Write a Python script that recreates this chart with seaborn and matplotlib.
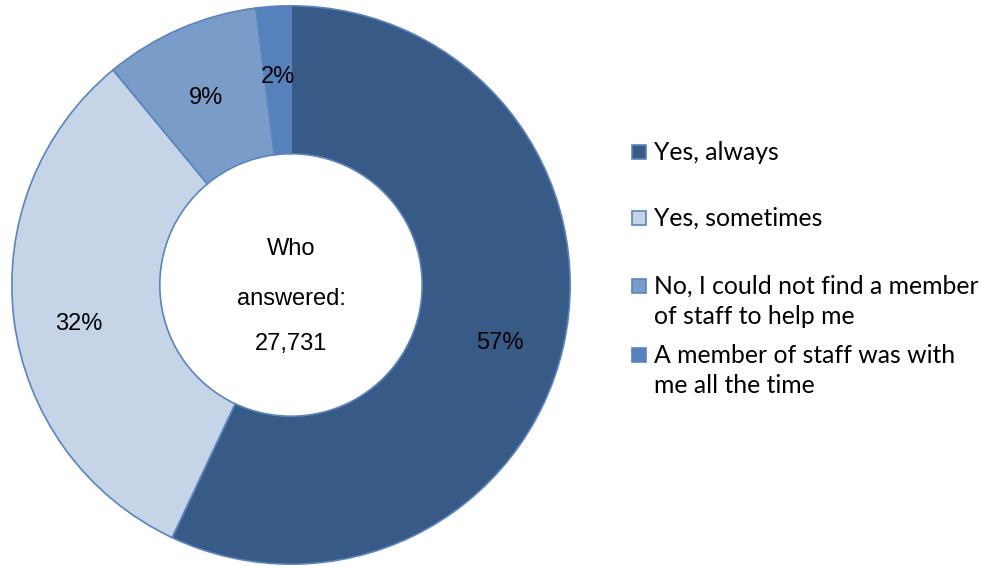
import matplotlib
matplotlib.use("Agg")
import matplotlib.pyplot as plt
import seaborn as sns
import numpy as np
from matplotlib.patches import Rectangle

# Survey answers, clockwise from 12 o'clock
categories = [
    "Yes, always",
    "Yes, sometimes",
    "No, I could not find a member\nof staff to help me",
    "A member of staff was with\nme all the time",
]
shares = [57, 32, 9, 2]
respondents = "27,731"

sns.set_theme(style="white")
plt.rcParams["font.family"] = ["Liberation Sans", "DejaVu Sans"]
plt.rcParams["text.color"] = "black"

colors = ["#375A87", "#C6D4E8", "#7A9CC8", "#5681BD"]
edge = "#5B84BE"

fig = plt.figure(figsize=(9.81, 5.67), dpi=100)
fig.patch.set_facecolor("white")

# donut occupies the left part of the canvas
W, H = 981, 567
cx, cy, R = 291, 285, 280
ax = fig.add_axes([(cx - R) / W, (H - cy - R) / H, 2 * R / W, 2 * R / H])

wedges, _, autotexts = ax.pie(
    shares,
    colors=colors,
    startangle=90,
    counterclock=False,
    radius=1.0,
    autopct=lambda p: f"{p:.0f}%",
    pctdistance=0.75,
    wedgeprops=dict(width=0.53, edgecolor=edge, linewidth=1.2, clip_on=False),
    textprops=dict(fontsize=17, color="black"),
)
# percentage labels sit a little below the mid-angle point
for w, t in zip(wedges, autotexts):
    ang = np.deg2rad((w.theta1 + w.theta2) / 2)
    x, y = 0.765 * np.cos(ang), 0.75 * np.sin(ang)
    t.set_position((x, y - 0.045 * abs(np.cos(ang))))

ax.set_xlim(-1.003, 1.003)
ax.set_ylim(-1.003, 1.003)
ax.set_aspect("equal")
ax.axis("off")

ax.text(0, 0.13, "Who", ha="center", va="center", fontsize=17, color="black")
ax.text(0, -0.05, "answered:", ha="center", va="center", fontsize=17, color="black")
ax.text(0, -0.21, respondents, ha="center", va="center", fontsize=17, color="black")

# legend drawn entry by entry
legend_y = [152, 218, 286, 355]
for label, col, y in zip(categories, colors, legend_y):
    fig.patches.append(
        Rectangle((632 / W, (H - y - 7) / H), 14 / W, 14 / H,
                  transform=fig.transFigure, facecolor=col,
                  edgecolor=edge, linewidth=1.2)
    )
    fig.text(654 / W, (H - y + 11) / H, label, ha="left", va="top",
             fontsize=17.8, family=["Lato", "DejaVu Sans"],
             linespacing=1.38, color="black",
             transform=fig.transFigure)

fig.savefig("out.png", dpi=100, facecolor="white")
